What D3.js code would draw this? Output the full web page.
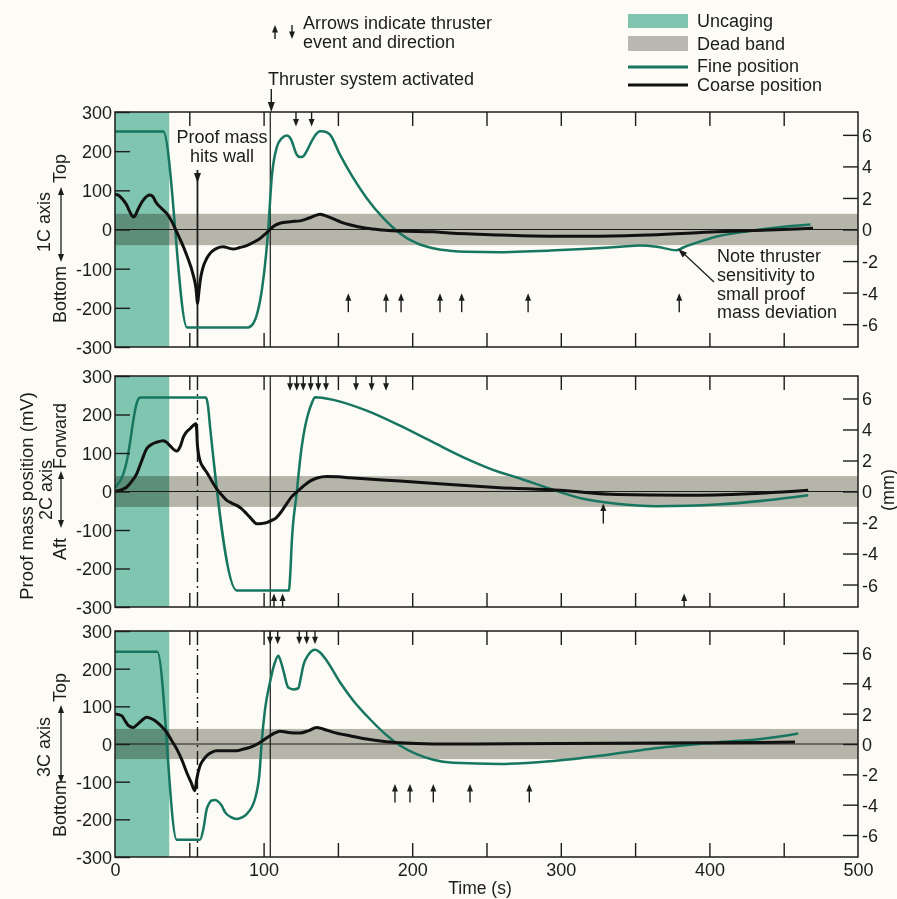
<!DOCTYPE html>
<html>
<head>
<meta charset="utf-8">
<script src="https://cdn.jsdelivr.net/npm/d3@7"></script>
<style>
body{margin:0;background:#fcfbf5;}
svg{display:block;font-family:"Liberation Sans",Arial,sans-serif;}
</style>
</head>
<body>
<svg id="chart" width="897" height="899"></svg>
<script>
// ---- data ----
var axisNames = ["1C axis", "2C axis", "3C axis"];
var axisDirs = [["Bottom", "Top"], ["Aft", "Forward"], ["Bottom", "Top"]];
var mvTicks = [-300, -200, -100, 0, 100, 200, 300];
var mmTicks = [-6, -4, -2, 0, 2, 4, 6];
var timeLabels = [0, 100, 200, 300, 400, 500];
var timeMinor = [50, 100, 150, 200, 250, 300, 350, 400, 450];
var uncagingEnd = 36.5;
var deadBand = 40;
var thrusterOn = 104.5;
var wallHit = 55.5;
var legendLabels = ["Uncaging", "Dead band", "Fine position", "Coarse position"];

// [time s, mV]
var fine1 = [[0,250],[32.5,250],[48.5,-250],[89.5,-250],[93,-240],[96,-210],[99,-150],[101.5,-70],[103.2,5],[105.4,130],[108.8,209],[112,232],[115.5,240],[117.5,236],[119,225],[122.3,191],[124.5,185],[126.7,187],[129,200],[131.2,217],[135,242],[138,251],[141,250],[144.7,242],[151.4,191],[160.4,131],[169.4,80],[180.6,29],[191.8,-10],[203,-35],[214,-48],[225,-54],[237,-57],[259,-58],[270,-57],[292,-54],[315,-50],[340,-44],[353,-41],[364.5,-44],[378,-53],[382.4,-46],[392,-33],[405,-18],[427,-4],[450,7],[468,13]];
var coarse1 = [[0,90],[2.2,88],[5,78],[7.8,63],[10,45],[12.3,32],[13.5,35],[15.3,50],[19,75],[23.5,88],[25.5,84],[27.3,71],[31,55],[34.8,41],[38,22],[41.5,-6],[45,-35],[48.2,-65],[52.7,-117],[54.5,-150],[55.6,-189],[56.3,-165],[57.2,-134],[59,-100],[61.7,-74],[65,-57],[68.4,-48],[72.9,-44],[76,-47],[79.6,-50],[84,-46],[88.6,-41],[93,-33],[97.6,-23],[101,-12],[104.3,0],[107,9],[111,16],[118,20],[124.5,22],[128,26],[131.2,30],[135,36],[138,39],[141,36],[147,27],[152,19],[158,12],[169.4,3],[180,-1],[191.8,-4],[214,-6],[225,-9],[259,-14],[292.7,-17],[325,-17],[360,-14],[405,-6],[449.7,0],[469.7,3]];
var fine2 = [[0,11],[3,25],[5.6,46],[8,80],[10,124],[12.3,184],[14,220],[15.7,240],[17,244],[61.2,244],[62.5,225],[64,167],[81.9,-257],[117,-257],[118,-210],[118.9,-136],[122.2,-6],[125.6,115],[128,170],[130,202],[132.5,230],[134.6,245],[140,243],[146.9,238],[169.4,210],[191.8,171],[214,128],[236.7,85],[259,50],[270,37],[292.7,7],[315,-19],[337.6,-32],[364.5,-38],[385,-37],[405,-34],[438.5,-23],[466.5,-10]];
var coarse2 = [[0,0],[4,4],[7.8,11],[11,25],[14.6,46],[18,80],[21.3,111],[24.5,122],[28,128],[32.5,132],[35,127],[37,119],[41.5,105],[44,118],[46,141],[48,154],[50.5,163],[54.5,176],[55.1,150],[55.4,124],[57.2,80],[59.5,62],[61.7,50],[65,28],[68.4,7],[72,-10],[75.2,-23],[78.5,-30],[81.9,-36],[85.3,-45],[88.6,-58],[92,-72],[95.4,-84],[99,-83],[102,-81],[105.5,-75],[108.8,-67],[112,-52],[115.5,-32],[118.8,-14],[122.2,-2],[126.5,13],[131.2,27],[136,35],[142.5,39],[150,38],[158,36],[191.8,27],[225.4,18],[259,10],[299.5,3],[337.6,-8],[382.4,-10],[427,-6],[466.5,3]];
var fine3 = [[0,245],[28.5,245],[41.5,-254],[57.2,-254],[59.5,-225],[61.7,-173],[63.3,-158],[65,-150],[67.3,-149],[69.5,-153],[72,-165],[74,-181],[78,-194],[81.9,-199],[85.5,-195],[88.6,-186],[92,-168],[94.2,-146],[96,-115],[97.1,-84],[98.7,4],[101,93],[104.3,164],[107.5,215],[109.9,234],[111.5,220],[113.3,195],[116.6,150],[120,145],[123.4,148],[125,175],[126.7,208],[130,236],[134.6,250],[138,243],[142.5,221],[151.4,164],[160.4,115],[169.4,75],[180.6,31],[191.8,-4],[203,-27],[214.2,-42],[227.7,-50],[259,-53],[292.7,-46],[326.4,-31],[360,-13],[405,4],[438.5,15],[459.8,28]];
var coarse3 = [[0,80],[4.5,75],[7,60],[9,49],[12.3,44],[14.5,50],[16.8,58],[21.3,71],[24,68],[27,62],[31,48],[34.8,31],[38,10],[41.5,-13],[45,-42],[48.2,-75],[51,-100],[53.8,-124],[55,-93],[57.2,-58],[59.5,-42],[61.7,-31],[65,-22],[68.4,-18],[75.2,-18],[81.9,-18],[86,-14],[90.8,-9],[97.6,4],[104.3,22],[108,30],[111,34],[118,30],[124.5,29],[130,35],[135.7,44],[140,40],[147,31],[158,22],[169.4,13],[180,7],[191.8,3],[214,0],[300,1],[400,3],[457.6,5]];

// thruster events: [time s, tip mV, tail mV]  (tip above tail = up arrow)
var arrows1 = [[121.8,263,300],[132.3,263,300],[157,-163,-211],[182.4,-163,-211],[192.5,-163,-211],[218.7,-163,-211],[233.3,-163,-211],[278,-163,-211],[379.7,-163,-211]];
var arrows2 = [[117.8,262,300],[122.3,262,300],[126.7,262,300],[131.7,262,300],[136.8,262,300],[142,262,300],[162.2,262,300],[172.7,262,300],[182.4,262,300],[107,-265,-300],[112.8,-265,-300],[383,-265,-300],[328.6,-31,-83]];
var arrows3 = [[104.3,265,300],[109.5,265,300],[124,265,300],[129,265,300],[134.6,265,300],[188.4,-106,-155],[198.5,-106,-155],[214.2,-106,-155],[238.9,-106,-155],[278.8,-106,-155]];
var noteTarget = [379, -50];

// ---- styles ----
var C = {uncage: "#80c5b0", band: "#b8b8b0", fine: "#17765f", coarse: "#111", ink: "#1c1c1c"};
var FS = "18px";
var plain = function (d) { return String(d); };   // hyphen minus like the original

var svg = d3.select("#chart");
svg.append("rect").attr("width", 897).attr("height", 899).attr("fill", "#fcfbf5");

var x = d3.scaleLinear().domain([0, 500]).range([115, 858]);

var panels = [
  {top: 112, bottom: 347, fine: fine1, coarse: coarse1, arrows: arrows1,
   lab: {name: [50, 222], low: [66, 323], arr: [61, 262, 187], high: [66, 183]}},
  {top: 376, bottom: 607, fine: fine2, coarse: coarse2, arrows: arrows2,
   lab: {name: [52, 490], low: [66, 560], arr: [61, 528, 471], high: [66, 469]}},
  {top: 631, bottom: 857, fine: fine3, coarse: coarse3, arrows: arrows3,
   lab: {name: [50, 747], low: [66, 837], arr: [61, 783, 705], high: [66, 702]}}
];

function tri(g, cx, cy, dx, dy, len, w, fill) {
  // triangle with tip at (cx,cy), pointing along (dx,dy)
  var n = Math.sqrt(dx * dx + dy * dy); dx /= n; dy /= n;
  var bx = cx - dx * len, by = cy - dy * len;
  var px = -dy * w / 2, py = dx * w / 2;
  g.append("path")
    .attr("d", "M" + cx + "," + cy + "L" + (bx + px) + "," + (by + py) + "L" + (bx - px) + "," + (by - py) + "Z")
    .attr("fill", fill || C.ink);
}

function vArrow(g, px, yTail, yTip) {
  g.append("line").attr("x1", px).attr("x2", px).attr("y1", yTail).attr("y2", yTip + (yTip < yTail ? 4 : -4))
    .attr("stroke", C.ink).attr("stroke-width", 1.4);
  tri(g, px, yTip, 0, yTip - yTail, 7.5, 6);
}

function styleAxis(a) {
  a.select(".domain").remove();
  a.selectAll("line").attr("stroke", C.ink).attr("stroke-width", 1.4);
  a.selectAll("text").attr("font-size", FS).attr("font-family", "Liberation Sans, Arial, sans-serif").attr("fill", C.ink);
}

panels.forEach(function (p, i) {
  var y = d3.scaleLinear().domain([-300, 300]).range([p.bottom, p.top]);
  var yMm = d3.scaleLinear().domain([-7.45, 7.45]).range([p.bottom, p.top]);
  var g = svg.append("g");

  g.append("rect").attr("x", x(0)).attr("y", p.top)
    .attr("width", x(uncagingEnd) - x(0)).attr("height", p.bottom - p.top).attr("fill", C.uncage);
  g.append("rect").attr("x", x(0)).attr("y", y(deadBand))
    .attr("width", x(500) - x(0)).attr("height", y(-deadBand) - y(deadBand))
    .attr("fill", C.band).style("mix-blend-mode", "multiply");
  g.append("line").attr("x1", x(0)).attr("x2", x(500)).attr("y1", y(0)).attr("y2", y(0))
    .attr("stroke", C.ink).attr("stroke-width", 1.1);

  // thruster activation line
  g.append("line").attr("x1", x(thrusterOn)).attr("x2", x(thrusterOn)).attr("y1", p.top).attr("y2", p.bottom)
    .attr("stroke", C.ink).attr("stroke-width", 1.2);
  // wall hit line
  if (i === 0) {
    g.append("line").attr("x1", x(wallHit)).attr("x2", x(wallHit)).attr("y1", 170).attr("y2", p.bottom)
      .attr("stroke", C.ink).attr("stroke-width", 1.8);
    tri(g, x(wallHit), 183, 0, 1, 10, 7);
  } else {
    g.append("line").attr("x1", x(wallHit)).attr("x2", x(wallHit)).attr("y1", p.top).attr("y2", p.bottom)
      .attr("stroke", C.ink).attr("stroke-width", 1.4).attr("stroke-dasharray", "14,4,2,4");
  }

  var line = d3.line().x(function (d) { return x(d[0]); }).y(function (d) { return y(d[1]); })
    .curve(d3.curveMonotoneX);
  g.append("path").datum(p.fine).attr("d", line).attr("fill", "none")
    .attr("stroke", C.fine).attr("stroke-width", 2.5).attr("stroke-linejoin", "round");
  g.append("path").datum(p.coarse).attr("d", line).attr("fill", "none")
    .attr("stroke", C.coarse).attr("stroke-width", 3).attr("stroke-linejoin", "round");

  // frame
  g.append("rect").attr("x", x(0)).attr("y", p.top).attr("width", x(500) - x(0)).attr("height", p.bottom - p.top)
    .attr("fill", "none").attr("stroke", C.ink).attr("stroke-width", 1.5);

  // axes
  var la = g.append("g").attr("transform", "translate(" + x(0) + ",0)")
    .call(d3.axisLeft(y).tickValues(mvTicks).tickSizeInner(-15).tickSizeOuter(0).tickPadding(3).tickFormat(plain));
  styleAxis(la);
  la.selectAll("text").attr("dy", "0.36em");
  var ra = g.append("g").attr("transform", "translate(" + x(500) + ",0)")
    .call(d3.axisRight(yMm).tickValues(mmTicks).tickSizeInner(-15).tickSizeOuter(0).tickPadding(4).tickFormat(plain));
  styleAxis(ra);
  ra.selectAll("text").attr("dy", "0.36em");
  var ta = g.append("g").attr("transform", "translate(0," + p.top + ")")
    .call(d3.axisTop(x).tickValues(timeMinor).tickSizeInner(-14).tickSizeOuter(0).tickFormat(""));
  styleAxis(ta);
  var ba = g.append("g").attr("transform", "translate(0," + p.bottom + ")")
    .call(d3.axisBottom(x).tickValues(timeMinor).tickSizeInner(-14).tickSizeOuter(0).tickFormat(""));
  styleAxis(ba);
  if (i === 2) {
    var xl = g.append("g").attr("transform", "translate(0," + p.bottom + ")")
      .call(d3.axisBottom(x).tickValues(timeLabels).tickSize(0).tickPadding(6).tickFormat(plain));
    styleAxis(xl);
  }

  // event arrows
  p.arrows.forEach(function (a) { vArrow(g, x(a[0]), y(a[2]), y(a[1])); });

  // left labels
  var L = p.lab;
  g.append("text").attr("transform", "translate(" + L.name[0] + "," + L.name[1] + ") rotate(-90)")
    .attr("text-anchor", "middle").attr("font-size", FS).attr("fill", C.ink).text(axisNames[i]);
  g.append("text").attr("transform", "translate(" + L.low[0] + "," + L.low[1] + ") rotate(-90)")
    .attr("font-size", FS).attr("fill", C.ink).text(axisDirs[i][0]);
  g.append("text").attr("transform", "translate(" + L.high[0] + "," + L.high[1] + ") rotate(-90)")
    .attr("font-size", FS).attr("fill", C.ink).text(axisDirs[i][1]);
  g.append("line").attr("x1", L.arr[0]).attr("x2", L.arr[0]).attr("y1", L.arr[1] - 6).attr("y2", L.arr[2] + 6)
    .attr("stroke", C.ink).attr("stroke-width", 1.3);
  tri(g, L.arr[0], L.arr[1], 0, 1, 8, 6);
  tri(g, L.arr[0], L.arr[2], 0, -1, 8, 6);

  if (i === 0) {
    // note arrow
    var tx = x(noteTarget[0]), ty = y(noteTarget[1]);
    g.append("line").attr("x1", 714).attr("y1", 282).attr("x2", tx + 5).attr("y2", ty + 4)
      .attr("stroke", C.ink).attr("stroke-width", 1.3);
    tri(g, tx, ty, tx - 714, ty - 282, 9, 6.5);
    var note = g.append("text").attr("font-size", FS).attr("fill", C.ink);
    ["Note thruster", "sensitivity to", "small proof", "mass deviation"].forEach(function (s, k) {
      note.append("tspan").attr("x", 717).attr("y", 262 + k * 18.8).text(s);
    });
    var pm = g.append("text").attr("font-size", FS).attr("fill", C.ink).attr("text-anchor", "middle");
    ["Proof mass", "hits wall"].forEach(function (s, k) {
      pm.append("tspan").attr("x", 222).attr("y", 143 + k * 18.5).text(s);
    });
  }
});

// global labels
svg.append("text").attr("transform", "translate(33,496) rotate(-90)").attr("text-anchor", "middle")
  .attr("font-size", "18.5px").attr("fill", C.ink).text("Proof mass position (mV)");
svg.append("text").attr("transform", "translate(894,490) rotate(-90)").attr("text-anchor", "middle")
  .attr("font-size", FS).attr("fill", C.ink).text("(mm)");
svg.append("text").attr("x", 480).attr("y", 894).attr("text-anchor", "middle")
  .attr("font-size", "17.5px").attr("fill", C.ink).text("Time (s)");

// thruster system activated
svg.append("text").attr("x", 268).attr("y", 85).attr("font-size", FS).attr("fill", C.ink).text("Thruster system activated");
svg.append("line").attr("x1", x(thrusterOn) + 1).attr("x2", x(thrusterOn) + 1).attr("y1", 89).attr("y2", 104)
  .attr("stroke", C.ink).attr("stroke-width", 1.4);
tri(svg, x(thrusterOn) + 1, 112, 0, 1, 10, 7);

// arrow explanation
vArrow(svg, 275, 39, 25);
vArrow(svg, 292, 25, 39);
svg.append("text").attr("x", 303).attr("y", 29).attr("font-size", FS).attr("fill", C.ink).text("Arrows indicate thruster");
svg.append("text").attr("x", 303).attr("y", 48).attr("font-size", FS).attr("fill", C.ink).text("event and direction");

// legend
var lg = svg.append("g");
lg.append("rect").attr("x", 628).attr("y", 14).attr("width", 60).attr("height", 14).attr("fill", C.uncage);
lg.append("rect").attr("x", 628).attr("y", 36).attr("width", 60).attr("height", 15).attr("fill", C.band);
lg.append("line").attr("x1", 628).attr("x2", 688).attr("y1", 67).attr("y2", 67).attr("stroke", C.fine).attr("stroke-width", 3);
lg.append("line").attr("x1", 628).attr("x2", 688).attr("y1", 85).attr("y2", 85).attr("stroke", C.coarse).attr("stroke-width", 3);
var legY = [27, 50, 72, 91];
legendLabels.forEach(function (s, k) {
  lg.append("text").attr("x", 697).attr("y", legY[k]).attr("font-size", FS).attr("fill", C.ink).text(s);
});
</script>
</body>
</html>
